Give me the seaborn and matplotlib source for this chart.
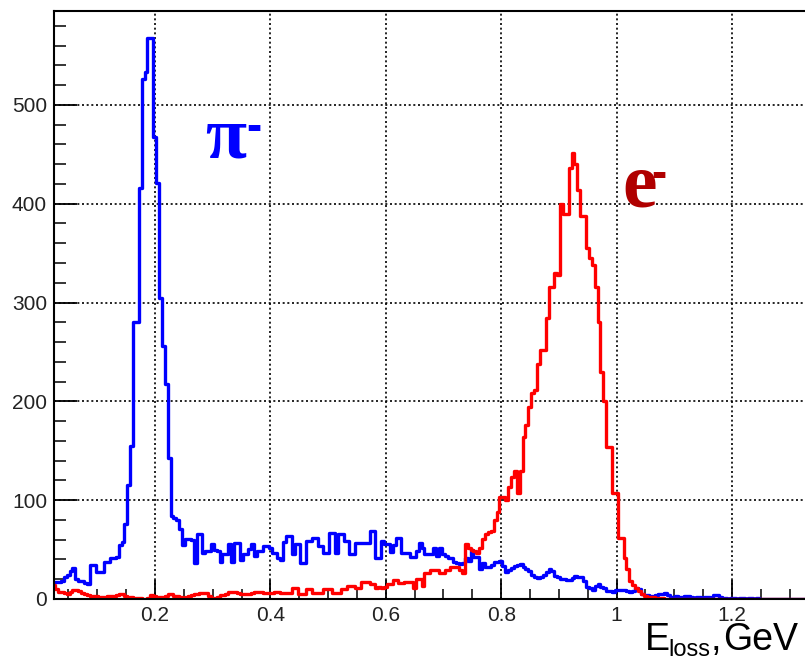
import numpy as np
import pandas as pd
import matplotlib
matplotlib.use("Agg")
import matplotlib.pyplot as plt
import seaborn as sns
from matplotlib.ticker import MultipleLocator, FixedLocator

# Histogram binning (GeV)
bin_start = 0.022
bin_width = 0.005

# pi- energy-loss histogram (counts per bin)
pion_counts = [
    17, 17, 17, 18, 22, 24, 28, 31, 20, 18, 18, 16, 15, 34, 34, 27, 27, 27, 37, 37,
    41, 41, 42, 55, 58, 76, 115, 155, 280, 280, 416, 526, 533, 568, 568, 467, 421, 305, 256, 218,
    143, 84, 82, 80, 71, 55, 61, 61, 60, 36, 66, 66, 47, 49, 49, 56, 50, 49, 37, 46,
    46, 56, 37, 57, 57, 39, 46, 46, 51, 56, 44, 49, 49, 54, 54, 52, 47, 47, 41, 39,
    58, 64, 64, 46, 56, 56, 36, 36, 59, 59, 62, 62, 54, 54, 47, 47, 67, 67, 47, 66,
    66, 59, 59, 46, 46, 57, 57, 57, 57, 57, 69, 69, 41, 41, 59, 56, 56, 48, 55, 62,
    62, 47, 47, 47, 42, 42, 49, 57, 52, 46, 46, 46, 52, 44, 52, 46, 44, 41, 41, 37,
    36, 35, 36, 41, 38, 50, 43, 43, 30, 36, 32, 32, 34, 37, 37, 38, 33, 27, 29, 31,
    33, 34, 35, 32, 30, 28, 24, 22, 21, 22, 24, 27, 30, 28, 23, 22, 20, 20, 19, 19,
    21, 23, 22, 22, 18, 12, 11, 9, 13, 15, 12, 11, 8, 8, 7, 9, 9, 9, 9, 8,
    7, 8, 11, 10, 5, 4, 4, 3, 3, 4, 5, 5, 6, 4, 2, 2, 3, 2, 2, 3,
    3, 2, 1, 2, 2, 1, 2, 2, 1, 4, 4, 2, 1, 1, 0, 1, 1, 0, 1, 1,
    0, 1, 1, 0, 1, 0, 0, 0, 0, 0, 0, 0, 0, 0, 0, 0, 0, 0, 0, 0,
    0,
]

# e- energy-loss histogram (counts per bin)
electron_counts = [
    14, 10, 7, 7, 6, 5, 7, 9, 9, 8, 6, 5, 4, 3, 3, 3, 2, 2, 2, 3,
    3, 3, 4, 5, 5, 3, 2, 2, 1, 1, 1, 0, 0, 1, 4, 3, 2, 2, 2, 3,
    5, 5, 3, 3, 2, 1, 2, 3, 4, 5, 5, 6, 6, 6, 3, 1, 1, 2, 4, 4,
    5, 7, 7, 7, 6, 5, 5, 5, 5, 6, 7, 7, 7, 6, 6, 6, 6, 7, 7, 6,
    6, 6, 6, 11, 11, 5, 5, 5, 10, 10, 6, 6, 6, 6, 10, 10, 10, 6, 6, 6,
    10, 10, 13, 13, 13, 11, 11, 17, 17, 17, 15, 15, 11, 12, 11, 12, 15, 15, 19, 19,
    16, 16, 17, 17, 17, 11, 20, 20, 13, 26, 26, 29, 29, 29, 26, 26, 29, 29, 32, 32,
    32, 29, 26, 56, 52, 50, 49, 47, 52, 61, 66, 68, 69, 80, 88, 103, 103, 100, 113, 123,
    130, 107, 130, 164, 176, 194, 208, 211, 238, 252, 252, 284, 316, 316, 330, 328, 400, 390, 390, 436,
    451, 440, 414, 388, 388, 355, 345, 338, 316, 280, 230, 200, 154, 154, 107, 107, 62, 62, 41, 30,
    18, 14, 11, 8, 5, 3, 2, 2, 2, 1, 1, 1, 0, 0, 0, 0, 0, 0, 0, 0,
    0, 0, 0, 0, 0, 0, 0, 0, 0, 0, 0, 0, 0, 0, 0, 0, 0, 0, 0, 0,
    0, 0, 0, 0, 0, 0, 0, 0, 0, 0, 0, 0, 0, 0, 0, 0, 0, 0, 0, 0,
    0,
]

x_ticks = [0.2, 0.4, 0.6, 0.8, 1.0, 1.2]
x_tick_labels = ["0.2", "0.4", "0.6", "0.8", "1", "1.2"]
y_ticks = [0, 100, 200, 300, 400, 500]
y_tick_labels = ["0", "100", "200", "300", "400", "500"]

n_bins = len(pion_counts)
edges = bin_start + bin_width * np.arange(n_bins + 1)
centers = edges[:-1] + bin_width / 2
pion_df = pd.DataFrame({"E": centers, "count": pion_counts})
electron_df = pd.DataFrame({"E": centers, "count": electron_counts})

sns.set_style("white")
plt.rcParams["font.family"] = ["Liberation Sans", "DejaVu Sans"]

W, H = 805, 660
fig = plt.figure(figsize=(W / 100, H / 100), dpi=100)
fig.patch.set_facecolor("white")
ax = fig.add_axes([54 / W, 61 / H, 754 / W, 588 / H])

sns.histplot(data=pion_df, x="E", weights="count", bins=list(edges), element="step",
             fill=False, color="#0000ff", linewidth=2.4, ax=ax)
sns.histplot(data=electron_df, x="E", weights="count", bins=list(edges), element="step",
             fill=False, color="#ff0000", linewidth=2.4, ax=ax)

ax.set_xlim(0.025, 1.3317)
ax.set_ylim(0, 595)
ax.set_xlabel("")
ax.set_ylabel("")

ax.xaxis.set_major_locator(FixedLocator(x_ticks))
ax.set_xticklabels(x_tick_labels)
ax.xaxis.set_minor_locator(MultipleLocator(0.05))
ax.yaxis.set_major_locator(FixedLocator(y_ticks))
ax.set_yticklabels(y_tick_labels)
ax.yaxis.set_minor_locator(MultipleLocator(20))

ax.tick_params(axis="x", which="major", direction="in", length=14, width=1.3,
               labelsize=15, pad=5, colors="black", labelcolor="#222222",
               bottom=True, top=False)
ax.tick_params(axis="x", which="minor", direction="in", length=7, width=1.3,
               bottom=True, top=False)
ax.tick_params(axis="y", which="major", direction="in", length=16.5, width=1.3,
               labelsize=15, pad=5, colors="black", labelcolor="#222222",
               left=True, right=False)
ax.tick_params(axis="y", which="minor", direction="in", length=8.5, width=1.3,
               left=True, right=False)

ax.grid(True, which="major", color="black", linestyle=(0, (1.2, 1.6)), linewidth=1.2)
ax.set_axisbelow(True)
for side in ["left", "bottom", "top", "right"]:
    ax.spines[side].set_visible(True)
    ax.spines[side].set_color("black")
    ax.spines[side].set_linewidth(1.5)

serif = ["Liberation Serif", "DejaVu Serif"]
sans = ["Liberation Sans", "DejaVu Sans"]

# Particle labels
ax.text(0.2003, 0.75, "π", transform=ax.transAxes, fontsize=54,
        fontweight="bold", family=serif, color="#0000ff", ha="left", va="baseline")
ax.text(0.2555, 0.781, "-", transform=ax.transAxes, fontsize=33,
        fontweight="bold", family=sans, color="#0000ff", ha="left", va="baseline")
ax.text(0.7533, 0.668, "e", transform=ax.transAxes, fontsize=56,
        fontweight="bold", family=serif, color="#b00000", ha="left", va="baseline")
ax.text(0.7925, 0.700, "-", transform=ax.transAxes, fontsize=33,
        fontweight="bold", family=sans, color="#b00000", ha="left", va="baseline")

# Axis title: E_loss, GeV
fig.text(645 / W, (H - 650) / H, "E", fontsize=27, family=sans, color="black",
         ha="left", va="baseline")
fig.text(668 / W, (H - 656) / H, "loss", fontsize=17, family=sans, color="black",
         ha="left", va="baseline")
fig.text(711 / W, (H - 650) / H, ",", fontsize=27, family=sans, color="black",
         ha="left", va="baseline")
fig.text(723 / W, (H - 650) / H, "GeV", fontsize=27, family=sans, color="black",
         ha="left", va="baseline")

fig.savefig("out.png", dpi=100, facecolor="white")
